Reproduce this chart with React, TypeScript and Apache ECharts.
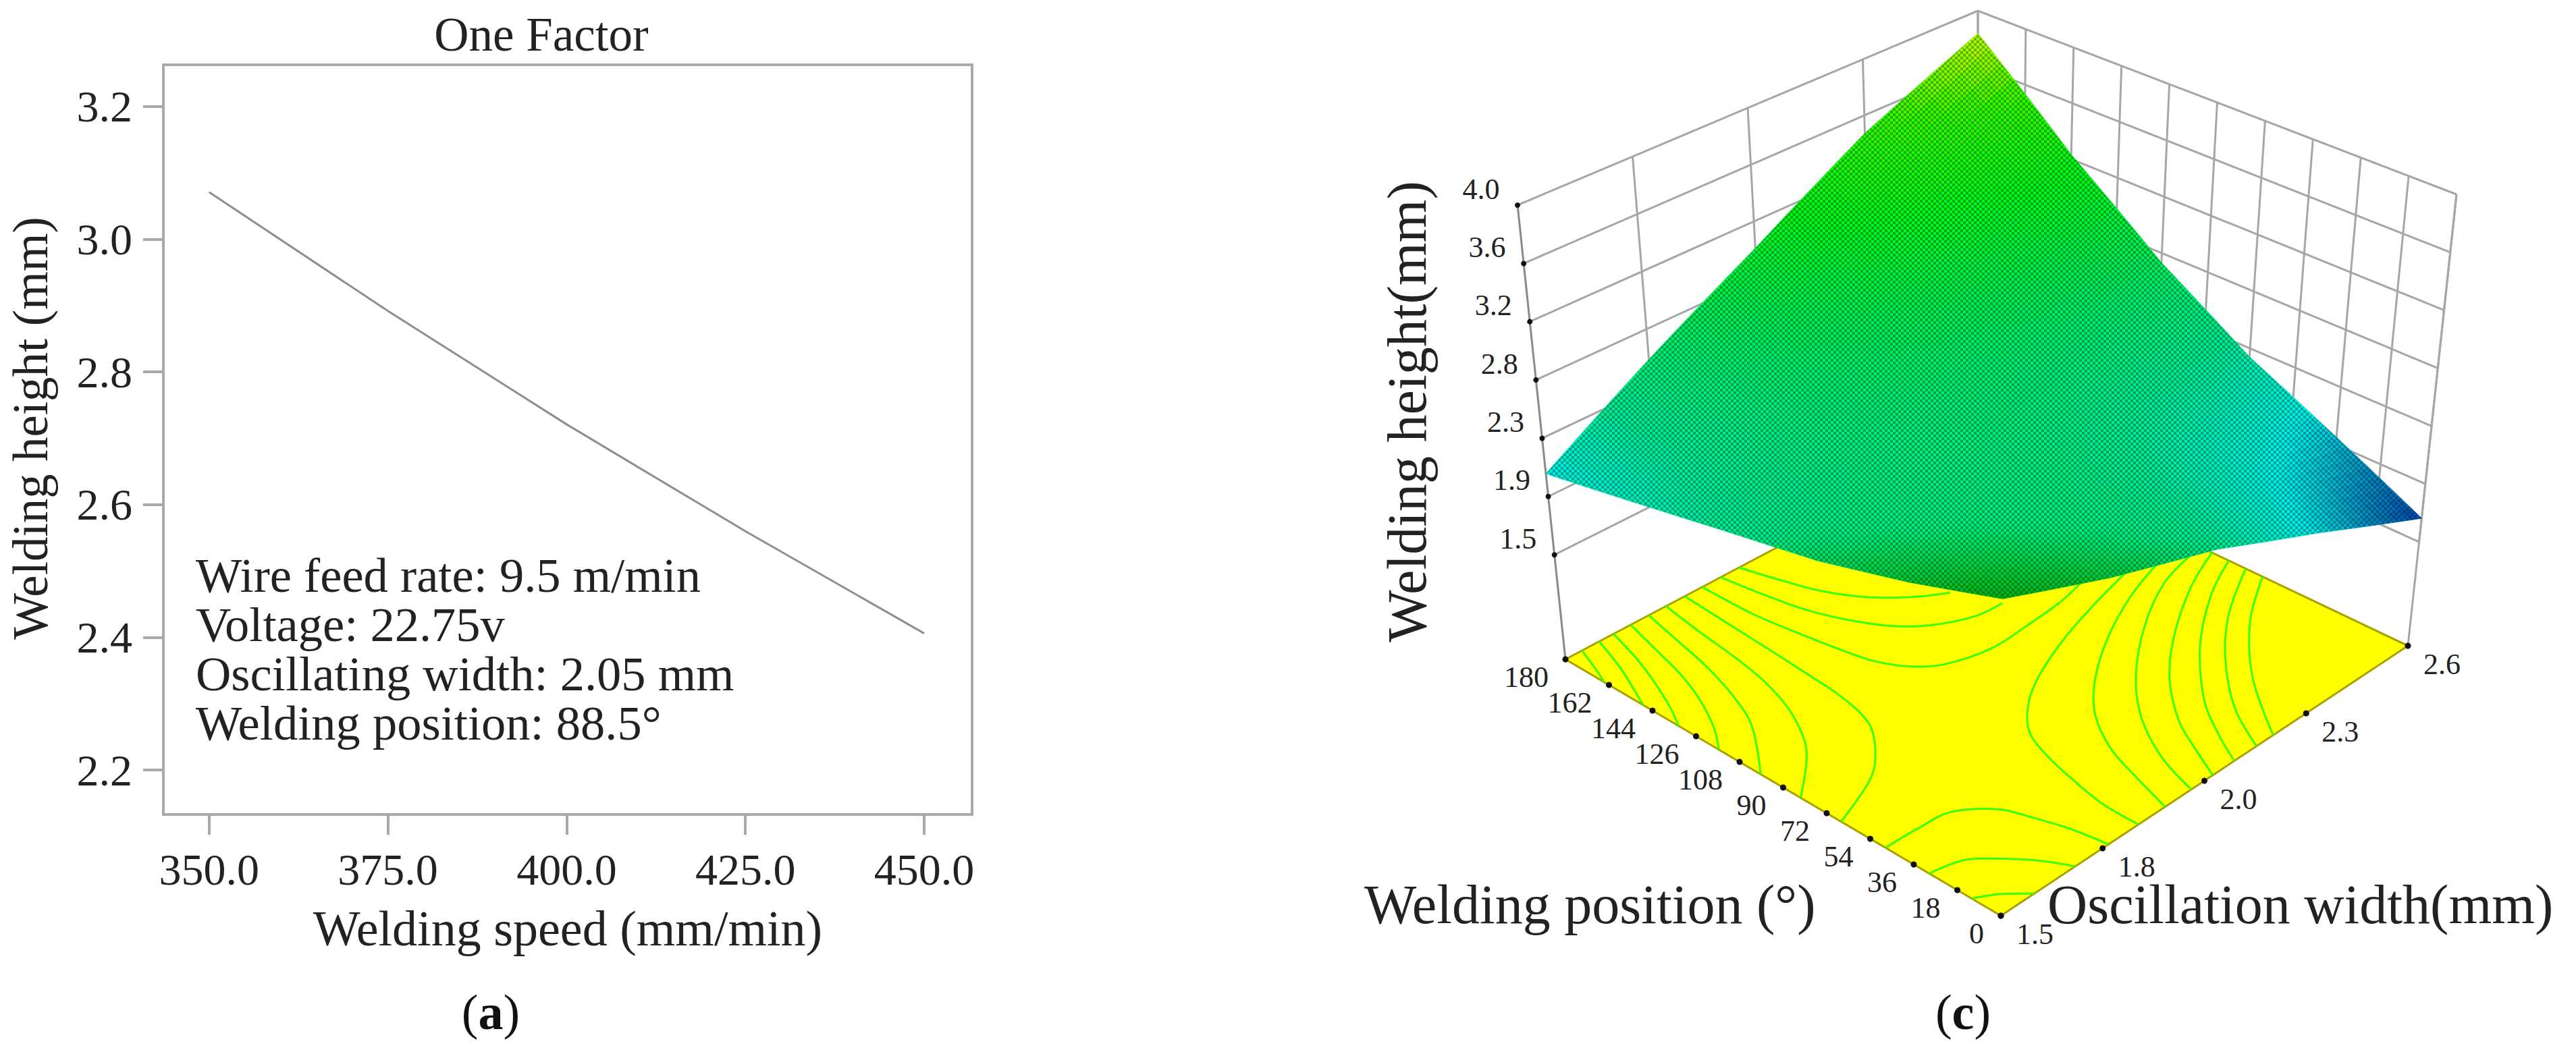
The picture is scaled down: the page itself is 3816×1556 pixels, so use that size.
import React, { useEffect, useRef } from "react";
import * as echarts from "echarts";

// ---------- panel (a) data ----------
const speedValues = [350, 375, 400, 425, 450];
const heightValues = [3.071, 2.892, 2.721, 2.56, 2.406];
const speedTicks = [350, 375, 400, 425, 450];
const heightTicks = [2.2, 2.4, 2.6, 2.8, 3.0, 3.2];
const factorNotes = [
  "Wire feed rate: 9.5 m/min",
  "Voltage: 22.75v",
  "Oscillating width: 2.05 mm",
  "Welding position: 88.5°",
];

// ---------- panel (c) data ----------
const widthTicks = [1.5, 1.775, 2.05, 2.325, 2.6];
const widthLabels = ["1.5", "1.8", "2.0", "2.3", "2.6"];
const positionTicks = [0, 18, 36, 54, 72, 90, 108, 126, 144, 162, 180];
const heightTicks3d = [1.5, 1.917, 2.333, 2.75, 3.167, 3.583, 4.0];
const heightLabels3d = ["1.5", "1.9", "2.3", "2.8", "3.2", "3.6", "4.0"];

// surface height: one row per width, one column per position
const surfaceWidths = [1.5, 1.775, 2.05, 2.325, 2.6];
const surfacePositions = [0, 36, 72, 108, 144, 180];
const surfaceRow15 = [2.88, 2.67, 2.49, 2.36, 2.22, 2.08];
const surfaceRow18 = [2.6, 2.53, 2.47, 2.46, 2.47, 2.53];
const surfaceRow20 = [2.36, 2.42, 2.48, 2.58, 2.74, 2.97];
const surfaceRow23 = [2.03, 2.18, 2.36, 2.62, 2.98, 3.45];
const surfaceRow26 = [1.67, 1.97, 2.27, 2.68, 3.2, 3.83];
const surfaceRows = [surfaceRow15, surfaceRow18, surfaceRow20, surfaceRow23, surfaceRow26];

// contour lines on the floor, [oscillation width, welding position]
const contourL1 = [[1.544, 180], [1.52, 170.8], [1.5, 164]];
const contourL2 = [[1.59, 180], [1.555, 165.6], [1.521, 154.5], [1.5, 147.8]];
const contourL3 = [[1.628, 180], [1.599, 165.4], [1.568, 153.5], [1.53, 141.1], [1.5, 133.2]];
const contourL4 = [[1.674, 180], [1.647, 164.7], [1.624, 151.6], [1.594, 139.7], [1.548, 126.4], [1.5, 116.5]];
const contourL5 = [[1.722, 180], [1.7, 164.5], [1.678, 149.4], [1.646, 133.7], [1.6, 118.4], [1.5, 99.3]];
const contourL6 = [[1.768, 180], [1.751, 163], [1.737, 145.4], [1.716, 129.2], [1.676, 112.7], [1.614, 97.9], [1.5, 82.8]];
const contourL7 = [[1.818, 180], [1.81, 160.4], [1.803, 142.6], [1.795, 124.9], [1.786, 109.6], [1.761, 94.9], [1.711, 84.4], [1.641, 75.2], [1.5, 66.1]];
const contourT1 = [[1.865, 180], [1.867, 159.8], [1.88, 144], [1.896, 128.9], [1.914, 116.3], [1.949, 106.4], [1.998, 99.9], [2.095, 95.6], [2.199, 96.3], [2.292, 97.7], [2.366, 100.4]];
const contourT2 = [[1.914, 180], [1.93, 163.6], [1.95, 149], [1.982, 136.3], [2.024, 125.1], [2.074, 117.5], [2.149, 111.4], [2.219, 110.2]];
const contourT3 = [[1.963, 180], [1.987, 166.7], [2.016, 153.4], [2.058, 142.2], [2.113, 133], [2.178, 125.6]];
const contourR1 = [[2.449, 94.3], [2.337, 89.5], [2.214, 83.3], [2.092, 75.1], [2.012, 67.3], [1.948, 57.1], [1.916, 45.5], [1.893, 31.3], [1.874, 15.5], [1.872, 0]];
const contourR2 = [[2.503, 90.2], [2.393, 83.9], [2.263, 73.3], [2.148, 60.7], [2.069, 48.4], [2.01, 32.9], [1.976, 17.1], [1.944, 0]];
const contourR3 = [[2.564, 85.9], [2.468, 81.4], [2.343, 70], [2.212, 53.5], [2.119, 36.9], [2.053, 18.4], [2.015, 0]];
const contourR4 = [[2.6, 82], [2.486, 73.3], [2.344, 58.3], [2.239, 43.6], [2.158, 27.4], [2.117, 15.1], [2.073, 0]];
const contourR5 = [[2.6, 75], [2.49, 65.5], [2.356, 49.1], [2.235, 28.6], [2.173, 13.1], [2.131, 0]];
const contourR6 = [[2.6, 67.9], [2.464, 54], [2.353, 38], [2.252, 18.4], [2.191, 0]];
const contourR7 = [[2.6, 60.8], [2.476, 46.8], [2.346, 25.6], [2.236, 0]];
const contourB1 = [[1.5, 47.7], [1.589, 47.3], [1.664, 45.9], [1.731, 36.5], [1.753, 27.5], [1.778, 13.7], [1.791, 0]];
const contourB2 = [[1.5, 29.6], [1.575, 26.5], [1.621, 19.6], [1.666, 10.6], [1.701, 0]];
const contourB3 = [[1.5, 12], [1.543, 7.7], [1.59, 0]];
const contours = [
  contourL1, contourL2, contourL3, contourL4, contourL5, contourL6, contourL7,
  contourT1, contourT2, contourT3,
  contourR1, contourR2, contourR3, contourR4, contourR5, contourR6, contourR7,
  contourB1, contourB2, contourB3,
];

// ---------- 3D box layout ----------
const WIDTH_RANGE = [1.5, 2.6];
const POSITION_RANGE = [0, 180];
const HEIGHT_RANGE = [0.753, 4.0];
const BOX_FLOOR = { f: [2964, 1357], r: [3567, 957], l: [2319, 977], b: [2930, 654] };
const BOX_TOP = { f: [2968, 640], r: [3639, 288], l: [2248, 304], b: [2930, 16] };

const lin = (v: number, r: number[]) => (v - r[0]) / (r[1] - r[0]);
function mix(p: any, a: number, b: number) {
  return [0, 1].map(
    (k) =>
      p.f[k] * (1 - a) * (1 - b) + p.r[k] * a * (1 - b) + p.l[k] * (1 - a) * b + p.b[k] * a * b
  );
}
function project(width: number, position: number, height: number) {
  const a = lin(width, WIDTH_RANGE);
  const b = lin(position, POSITION_RANGE);
  const w = lin(height, HEIGHT_RANGE);
  const p0 = mix(BOX_FLOOR, a, b);
  const p1 = mix(BOX_TOP, a, b);
  return [p0[0] + (p1[0] - p0[0]) * w, p0[1] + (p1[1] - p0[1]) * w];
}
const FLOOR = HEIGHT_RANGE[0];

function cellHeight(i: number, j: number, s: number, t: number) {
  const r0 = surfaceRows[i], r1 = surfaceRows[i + 1];
  return (
    r0[j] * (1 - s) * (1 - t) + r1[j] * s * (1 - t) + r0[j + 1] * (1 - s) * t + r1[j + 1] * s * t
  );
}

const RAMP: [number, number[]][] = [
  [1.65, [0, 62, 165]],
  [1.85, [0, 135, 190]],
  [2.08, [0, 238, 228]],
  [2.35, [0, 234, 145]],
  [2.7, [0, 236, 90]],
  [3.1, [0, 246, 25]],
  [3.5, [50, 250, 0]],
  [3.85, [195, 255, 0]],
];
function surfaceColor(z: number, a: number, b: number) {
  let c = RAMP[RAMP.length - 1][1];
  if (z <= RAMP[0][0]) c = RAMP[0][1];
  else
    for (let i = 0; i < RAMP.length - 1; i++) {
      if (z >= RAMP[i][0] && z <= RAMP[i + 1][0]) {
        const t = (z - RAMP[i][0]) / (RAMP[i + 1][0] - RAMP[i][0]);
        c = RAMP[i][1].map((v, k) => v + (RAMP[i + 1][1][k] - v) * t);
        break;
      }
    }
  const shade = Math.min(1, 0.74 + 0.5 * (a + b));
  const blueFade = Math.min(1, 0.4 + 1.1 * (a + b));
  return `rgb(${Math.round(c[0] * shade)},${Math.round(c[1] * shade)},${Math.round(c[2] * shade * blueFade)})`;
}

function meshTexture() {
  const cv = document.createElement("canvas");
  cv.width = 8;
  cv.height = 8;
  const ctx = cv.getContext("2d")!;
  ctx.fillStyle = "rgba(0,0,0,0.3)";
  ctx.fillRect(4, 0, 4, 4);
  ctx.fillRect(0, 4, 4, 4);
  return cv;
}

const SERIF = '"Liberation Serif"';
const AXIS_GREY = "#a9a9a9";
const TEXT = "#222222";
const WALL_GREY = "#a6a6a6";

function text(x: number, y: number, t: string, size: number, align: string, extra: any = {}) {
  return {
    type: "text",
    x,
    y,
    silent: true,
    ...extra,
    style: {
      text: t,
      font: `${size}px ${SERIF}`,
      fill: TEXT,
      align,
      textAlign: align,
      verticalAlign: "middle",
      textVerticalAlign: "middle",
    },
  };
}

export default function App() {
  const ref = useRef<HTMLDivElement>(null);

  useEffect(() => {
    if (!ref.current) return;
    const chart = echarts.init(ref.current, undefined, { renderer: "svg" });

    const wallLine = (p: number[], q: number[], width: number, color: string) => ({
      type: "line",
      shape: { x1: p[0], y1: p[1], x2: q[0], y2: q[1] },
      style: { stroke: color, lineWidth: width, fill: "none" },
      silent: true,
    });

    const walls = () => {
      const top = HEIGHT_RANGE[1];
      const low = heightTicks3d[0];
      const uMax = WIDTH_RANGE[1];
      const vMax = POSITION_RANGE[1];
      const kids: any[] = [];
      heightTicks3d.forEach((z) => {
        kids.push(wallLine(project(WIDTH_RANGE[0], vMax, z), project(uMax, vMax, z), 3, WALL_GREY));
        kids.push(wallLine(project(uMax, vMax, z), project(uMax, POSITION_RANGE[0], z), 3, WALL_GREY));
      });
      widthTicks.slice(1).forEach((u) => {
        kids.push(wallLine(project(u, vMax, low), project(u, vMax, top), 3, WALL_GREY));
      });
      positionTicks.slice(0, -1).forEach((v) => {
        kids.push(wallLine(project(uMax, v, low), project(uMax, v, top), 3, WALL_GREY));
      });
      kids.push(wallLine(project(WIDTH_RANGE[0], vMax, FLOOR), project(WIDTH_RANGE[0], vMax, top), 3, "#8a8a8a"));
      kids.push(wallLine(project(uMax, POSITION_RANGE[0], FLOOR), project(uMax, POSITION_RANGE[0], top), 3, WALL_GREY));
      kids.push(wallLine(project(uMax, vMax, FLOOR), project(uMax, vMax, top), 3, WALL_GREY));
      return { type: "group", children: kids };
    };

    const floor = () => ({
      type: "polygon",
      shape: {
        points: [
          project(WIDTH_RANGE[0], POSITION_RANGE[0], FLOOR),
          project(WIDTH_RANGE[1], POSITION_RANGE[0], FLOOR),
          project(WIDTH_RANGE[1], POSITION_RANGE[1], FLOOR),
          project(WIDTH_RANGE[0], POSITION_RANGE[1], FLOOR),
        ],
      },
      style: { fill: "#ffff00", stroke: "#a8a200", lineWidth: 3 },
      silent: true,
    });

    const SUB = 8;
    const surfaceCell = (_: any, api: any) => {
      const i = api.value(0);
      const j = api.value(1);
      const kids: any[] = [];
      const u0 = surfaceWidths[i], u1 = surfaceWidths[i + 1];
      const v0 = surfacePositions[j], v1 = surfacePositions[j + 1];
      for (let m = 0; m < SUB; m++) {
        for (let n = 0; n < SUB; n++) {
          const s0 = m / SUB, s1 = (m + 1) / SUB, t0 = n / SUB, t1 = (n + 1) / SUB;
          const pt = (s: number, t: number) =>
            project(u0 + (u1 - u0) * s, v0 + (v1 - v0) * t, cellHeight(i, j, s, t));
          const z = cellHeight(i, j, (s0 + s1) / 2, (t0 + t1) / 2);
          const a = lin(u0 + (u1 - u0) * (s0 + s1) / 2, WIDTH_RANGE);
          const b = lin(v0 + (v1 - v0) * (t0 + t1) / 2, POSITION_RANGE);
          const col = surfaceColor(z, a, b);
          kids.push({
            type: "polygon",
            shape: { points: [pt(s0, t0), pt(s1, t0), pt(s1, t1), pt(s0, t1)] },
            style: { fill: col, stroke: col, lineWidth: 1 },
            silent: true,
          });
        }
      }
      return { type: "group", children: kids };
    };

    const surfaceOutline = () => {
      const pts: number[][] = [];
      const last = surfaceRows.length - 1;
      const lastC = surfacePositions.length - 1;
      surfaceWidths.forEach((u, i) => pts.push(project(u, surfacePositions[0], surfaceRows[i][0])));
      surfacePositions.forEach((v, j) => pts.push(project(surfaceWidths[last], v, surfaceRows[last][j])));
      for (let i = last; i >= 0; i--) pts.push(project(surfaceWidths[i], surfacePositions[lastC], surfaceRows[i][lastC]));
      for (let j = lastC; j >= 0; j--) pts.push(project(surfaceWidths[0], surfacePositions[j], surfaceRows[0][j]));
      return {
        type: "polygon",
        shape: { points: pts },
        style: { fill: { image: meshTexture(), repeat: "repeat" }, stroke: "none" },
        silent: true,
      };
    };

    const dot = (p: number[], r: number) => ({
      type: "circle",
      shape: { cx: p[0], cy: p[1], r },
      style: { fill: "#111" },
      silent: true,
    });

    const ticks3d = () => {
      const kids: any[] = [];
      const uMin = WIDTH_RANGE[0];
      const vMax = POSITION_RANGE[1];
      heightTicks3d.forEach((z, k) => {
        const p = project(uMin, vMax, z);
        kids.push(dot(p, 4));
        kids.push(text(p[0] - 54, p[1] - 24, heightLabels3d[k], 44, "center"));
      });
      positionTicks.forEach((v) => {
        const p = project(uMin, v, FLOOR);
        kids.push(dot(p, 4.5));
        kids.push(text(p[0] - 25, p[1] + 26, String(v), 44, "right"));
      });
      widthTicks.forEach((u, k) => {
        const p = project(u, POSITION_RANGE[0], FLOOR);
        kids.push(dot(p, 4.5));
        kids.push(text(p[0] + 23, p[1] + 27, widthLabels[k], 44, "left"));
      });
      return { type: "group", children: kids };
    };

    const cells: number[][] = [];
    for (let i = 0; i < surfaceWidths.length - 1; i++)
      for (let j = 0; j < surfacePositions.length - 1; j++) cells.push([i, j]);

    const caption = (x: number, letter: string) => ({
      type: "text",
      x,
      y: 1500,
      silent: true,
      style: {
        text: `{n|(}{b|${letter}}{n|)}`,
        align: "center",
        textAlign: "center",
        verticalAlign: "middle",
        textVerticalAlign: "middle",
        rich: {
          n: { font: `74px ${SERIF}`, fill: "#111" },
          b: { font: `bold 74px ${SERIF}`, fill: "#111" },
        },
      },
    });

    chart.setOption({
      animation: false,
      backgroundColor: "#ffffff",
      title: {
        text: "One Factor",
        left: 797,
        top: 10,
        textAlign: "center",
        textStyle: { fontFamily: SERIF, fontWeight: "normal", fontSize: 71, color: TEXT },
      },
      grid: {
        left: 242,
        top: 96,
        width: 1198,
        height: 1111,
        outerBoundsMode: "none",
        containLabel: false,
        show: true,
        borderColor: AXIS_GREY,
        borderWidth: 4,
        backgroundColor: "#fff",
      },
      xAxis: {
        type: "value",
        min: 343.6,
        max: 456.7,
        name: "Welding speed (mm/min)",
        nameLocation: "middle",
        nameGap: 132,
        nameTextStyle: { fontFamily: SERIF, fontSize: 74, color: TEXT },
        axisLine: { show: true, onZero: false, lineStyle: { color: AXIS_GREY, width: 4 } },
        axisTick: { show: true, length: 30, customValues: speedTicks, lineStyle: { color: AXIS_GREY, width: 4 } },
        splitLine: { show: false },
        axisLabel: {
          customValues: speedTicks,
          margin: 48,
          fontFamily: SERIF,
          fontSize: 66,
          color: TEXT,
          hideOverlap: false,
          formatter: (v: number) => v.toFixed(1),
        },
      },
      yAxis: {
        type: "value",
        min: 2.133,
        max: 3.263,
        name: "Welding height (mm)",
        nameLocation: "middle",
        nameGap: 160,
        nameTextStyle: { fontFamily: SERIF, fontSize: 73, color: TEXT, padding: [0, 0, 0, 34] },
        axisLine: { show: true, onZero: false, lineStyle: { color: AXIS_GREY, width: 4 } },
        axisTick: { show: true, length: 30, customValues: heightTicks, lineStyle: { color: AXIS_GREY, width: 4 } },
        splitLine: { show: false },
        axisLabel: {
          customValues: heightTicks,
          margin: 46,
          fontFamily: SERIF,
          fontSize: 66,
          color: TEXT,
          formatter: (v: number) => v.toFixed(1),
        },
      },
      graphic: [
        ...factorNotes.map((t, k) => text(290, 852 + 73 * k, t, 72.5, "left")),
        caption(727, "a"),
        caption(2908, "c"),
        text(2021, 1340, "Welding position (°)", 82, "left"),
        text(3033, 1340, "Oscillation width(mm)", 82, "left"),
        text(2084, 610, "Welding height(mm)", 82, "center", { rotation: Math.PI / 2 }),
      ],
      series: [
        {
          type: "line",
          data: speedValues.map((x, i) => [x, heightValues[i]]),
          showSymbol: false,
          symbol: "none",
          lineStyle: { color: "#8e8e8e", width: 3 },
          z: 3,
        },
        {
          type: "custom",
          coordinateSystem: "none",
          data: [[0]],
          renderItem: walls,
          silent: true,
          z: 2,
        },
        {
          type: "custom",
          coordinateSystem: "none",
          data: [[0]],
          renderItem: floor,
          silent: true,
          z: 3,
        },
        {
          type: "custom",
          coordinateSystem: "none",
          data: contours.map((_, k) => [k]),
          renderItem: (_: any, api: any) => ({
            type: "polyline",
            shape: {
              points: contours[api.value(0)].map((c) => project(c[0], c[1], FLOOR)),
              smooth: 0.35,
            },
            style: { stroke: "#38ff00", lineWidth: 3, fill: "none" },
            silent: true,
          }),
          silent: true,
          z: 4,
        },
        {
          type: "custom",
          coordinateSystem: "none",
          data: cells,
          renderItem: surfaceCell,
          silent: true,
          z: 5,
        },
        {
          type: "custom",
          coordinateSystem: "none",
          data: [[0]],
          renderItem: surfaceOutline,
          silent: true,
          z: 6,
        },
        {
          type: "custom",
          coordinateSystem: "none",
          data: [[0]],
          renderItem: ticks3d,
          silent: true,
          z: 7,
        },
      ],
    });

    return () => chart.dispose();
  }, []);

  return (
    <div
      ref={ref}
      style={{ position: "absolute", left: 0, top: 0, width: 3816, height: 1556 }}
    />
  );
}
